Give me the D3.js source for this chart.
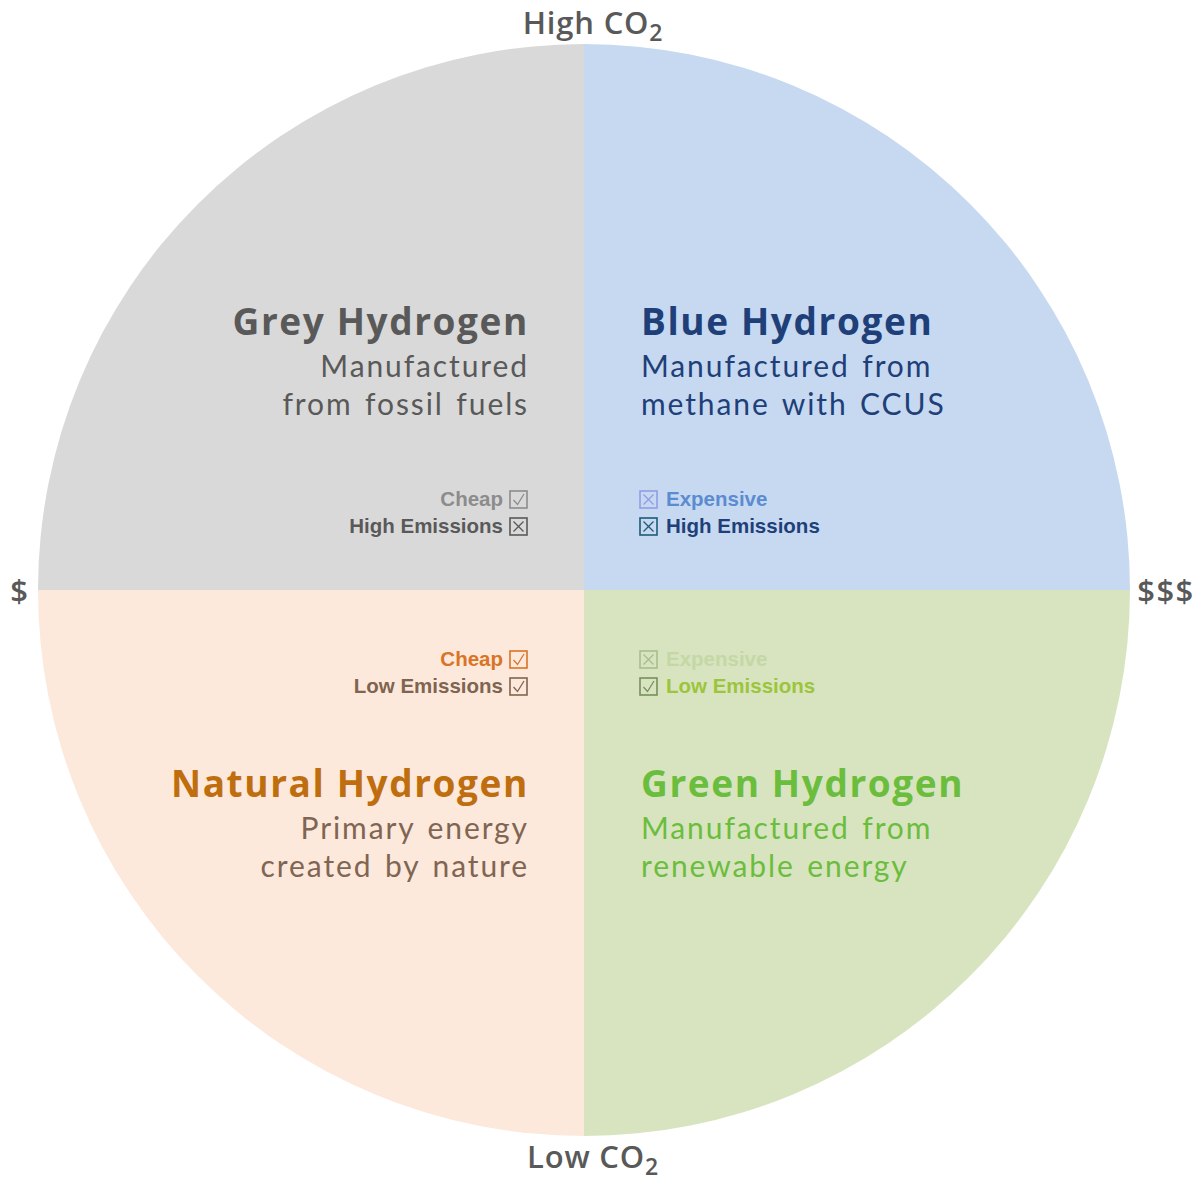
<!DOCTYPE html>
<html>
<head>
<meta charset="utf-8">
<script src="https://cdn.jsdelivr.net/npm/d3@7"></script>
<style>
  body { margin: 0; background: #fff; }
  svg { display: block; }
  .title { font-family: "Open Sans", Lato, sans-serif; font-weight: 700; }
  .sub { font-family: Lato, "Open Sans", sans-serif; font-weight: 400; }
  .lbl { font-family: "Liberation Sans", Arial, sans-serif; font-weight: 700; }
  .axislbl { font-family: "Open Sans", Lato, sans-serif; font-weight: 600; fill: #595959; }
</style>
</head>
<body>
<div id="chart"></div>
<script>
// quadrants, clockwise from top-right
var quadNames = ["Blue Hydrogen", "Green Hydrogen", "Natural Hydrogen", "Grey Hydrogen"];
var quadSub = [
  ["Manufactured from", "methane with CCUS"],
  ["Manufactured from", "renewable energy"],
  ["Primary energy", "created by nature"],
  ["Manufactured", "from fossil fuels"]
];
var quadFill = ["#c6d9f0", "#d8e4bf", "#fce9dc", "#d9d9d9"];
var titleColor = ["#1f3f79", "#6bbd3d", "#bf6e0f", "#595959"];
var subColor = ["#1f3f79", "#6bbd3d", "#806552", "#595959"];
// pros / cons tags per quadrant: [label, mark]
var quadTags = [
  [["Expensive", "x"], ["High Emissions", "x"]],
  [["Expensive", "x"], ["Low Emissions", "v"]],
  [["Cheap", "v"], ["Low Emissions", "v"]],
  [["Cheap", "v"], ["High Emissions", "x"]]
];
var tagText = [["#5b8bd0", "#1f3f79"], ["#c4d8a6", "#9cc53c"], ["#d97426", "#7f6450"], ["#8c8c8c", "#595959"]];
var tagBox = [["#8f9de6", "#1b5a78"], ["#a8bd8c", "#75905c"], ["#d97426", "#7f6450"], ["#8c8c8c", "#595959"]];
var axisLabels = ["High CO", "Low CO", "$", "$$$"];

var width = 1204, height = 1182;
var cx = 584, cy = 590, radius = 546;

var svg = d3.select("#chart").append("svg")
    .attr("width", width)
    .attr("height", height);

var g = svg.append("g").attr("transform", "translate(" + cx + "," + cy + ")");

var pie = d3.pie().sort(null).value(function() { return 1; });
var arc = d3.arc().innerRadius(0).outerRadius(radius);

var slices = pie(quadNames);

g.selectAll("path.quad")
  .data(slices)
  .enter().append("path")
    .attr("class", "quad")
    .attr("d", arc)
    .attr("fill", function(d, i) { return quadFill[i]; });

// text blocks
slices.forEach(function(d, i) {
  var right = i < 2;          // right half
  var top = (i == 0 || i == 3);
  var x = right ? 57 : -55;
  var anchor = right ? "start" : "end";
  var ty = top ? -255 : 207;

  g.append("text")
    .attr("class", "title")
    .attr("x", x).attr("y", ty)
    .attr("text-anchor", anchor)
    .attr("fill", titleColor[i])
    .style("font-size", "37px")
    .style("letter-spacing", "1.6px")
    .text(quadNames[i]);

  quadSub[i].forEach(function(line, k) {
    g.append("text")
      .attr("class", "sub")
      .attr("x", x).attr("y", ty + 42 + k * 38)
      .attr("text-anchor", anchor)
      .attr("fill", subColor[i])
      .style("font-size", "30px")
      .style("letter-spacing", "1.9px")
      .style("word-spacing", "3px")
      .text(line);
  });

  // tags
  var tagY = top ? -84 : 76;
  quadTags[i].forEach(function(t, k) {
    var y = tagY + k * 27;
    var bx = right ? 56 : -57;
    var tx = right ? 82 : -81;
    g.append("text")
      .attr("class", "lbl")
      .attr("x", tx).attr("y", y)
      .attr("text-anchor", anchor)
      .attr("fill", tagText[i][k])
      .style("font-size", "20.5px")
      .text(t[0]);
    var box = g.append("g").attr("transform", "translate(" + bx + "," + (y - 15) + ")");
    var s = 17;
    var c = tagBox[i][k];
    box.append("rect")
      .attr("x", right ? 0 : -s).attr("y", 0)
      .attr("width", s).attr("height", s)
      .attr("fill", "none")
      .attr("stroke", c)
      .attr("stroke-width", 1.6);
    var ox = right ? 0 : -s;
    var mark = t[1] == "x"
      ? "M" + (ox + 3.5) + ",3.5L" + (ox + s - 3.5) + "," + (s - 3.5) + "M" + (ox + s - 3.5) + ",3.5L" + (ox + 3.5) + "," + (s - 3.5)
      : "M" + (ox + 3.5) + ",9L" + (ox + 7.5) + "," + (s - 3.5) + "L" + (ox + s - 3) + ",3";
    box.append("path")
      .attr("d", mark)
      .attr("fill", "none")
      .attr("stroke", c)
      .attr("stroke-width", 1.3);
  });
});

// axis labels
function co2(label, y) {
  var t = svg.append("text")
    .attr("class", "axislbl")
    .attr("x", cx + 9).attr("y", y)
    .attr("text-anchor", "middle")
    .style("font-size", "31px")
    .style("letter-spacing", "0.8px");
  t.append("tspan").text(label);
  t.append("tspan").attr("dy", 7).style("font-size", "23px").text("2");
}
co2(axisLabels[0], 34);
co2(axisLabels[1], 1168);

svg.append("text")
  .attr("class", "axislbl")
  .attr("x", 19).attr("y", 602)
  .attr("text-anchor", "middle")
  .style("font-size", "31px")
  .text(axisLabels[2]);

svg.append("text")
  .attr("class", "axislbl")
  .attr("x", 1166).attr("y", 602)
  .attr("text-anchor", "middle")
  .style("font-size", "31px")
  .style("letter-spacing", "1.5px")
  .text(axisLabels[3]);
</script>
</body>
</html>
